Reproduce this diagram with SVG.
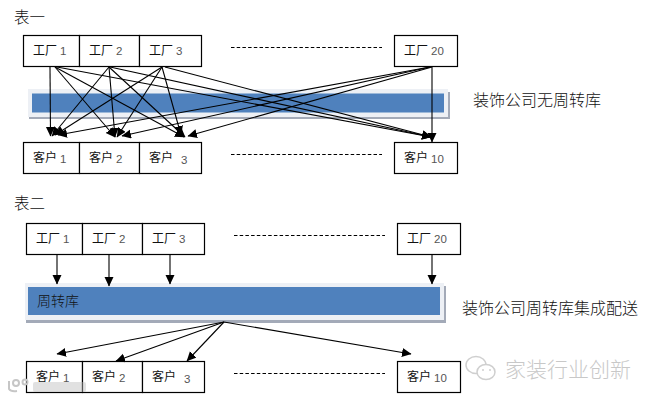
<svg xmlns="http://www.w3.org/2000/svg" width="648" height="401" viewBox="0 0 648 401">
<style>
text{font-family:"Noto Sans CJK SC","Liberation Sans",sans-serif;fill:#111}
.box{fill:#fff;stroke:#000;stroke-width:1.2}
.l{font-size:12px;font-weight:400}
.n{font-family:"Liberation Sans",sans-serif;font-size:11.500px;fill:#555}
.t{font-size:16px;font-weight:300}
.h{font-size:15.500px;font-weight:300}
.c line{stroke:#000;stroke-width:1.1;marker-end:url(#a)}
.d{stroke:#000;stroke-width:1;stroke-dasharray:3.5 2.2}
.glow{fill:#edf0f5}.sh{fill:#a3aab8}.blue{fill:#4f81bd}
.wm{font-size:21px;font-weight:300;fill:#c8c8c8}
.ic{fill:#fff;stroke:#cfcfcf;stroke-width:1.5}
.lg{fill:none;stroke:#c6c6c6;stroke-width:2}
</style>
<defs><marker id="a" markerUnits="userSpaceOnUse" markerWidth="11" markerHeight="10" refX="9" refY="4.500" orient="auto"><path d="M0 0L9.500 4.500L0 9Z" fill="#000"/></marker></defs>
<rect width="648" height="401" fill="#fff"/>
<text class="h" x="14" y="23">表一</text>
<text class="h" x="14" y="209">表二</text>

<g id="bar1"><rect class="sh" x="29" y="92" width="421" height="27"/><rect class="glow" x="28" y="89" width="420" height="28"/><rect class="blue" x="32" y="93.500" width="412" height="19"/></g>
<g id="bar2"><rect class="sh" x="26" y="286" width="420" height="37"/><rect class="glow" x="25" y="283" width="419" height="37"/><rect class="blue" x="28" y="287" width="412" height="28"/><text x="37" y="306" font-size="14" font-weight="300">周转库</text></g>

<g id="f1"><rect class="box" x="23.500" y="35.500" width="56" height="31"/><text class="l" x="33" y="55">工厂</text><text class="n" x="60" y="55">1</text></g>
<g id="f2"><rect class="box" x="79.500" y="35.500" width="60" height="31"/><text class="l" x="89" y="55">工厂</text><text class="n" x="116" y="55">2</text></g>
<g id="f3"><rect class="box" x="139.500" y="35.500" width="62" height="31"/><text class="l" x="149" y="55">工厂</text><text class="n" x="176" y="55">3</text></g>
<g id="f20"><rect class="box" x="394.500" y="35.500" width="63" height="31"/><text class="l" x="404" y="55">工厂</text><text class="n" x="431" y="55">20</text></g>
<g id="c1"><rect class="box" x="23.500" y="142.500" width="56" height="31"/><text class="l" x="33" y="162">客户</text><text class="n" x="60" y="163">1</text></g>
<g id="c2"><rect class="box" x="79.500" y="142.500" width="60" height="31"/><text class="l" x="89" y="162">客户</text><text class="n" x="116" y="163">2</text></g>
<g id="c3"><rect class="box" x="139.500" y="142.500" width="62" height="31"/><text class="l" x="149" y="162">客户</text><text class="n" x="181" y="164">3</text></g>
<g id="c10"><rect class="box" x="394.500" y="142.500" width="63" height="31"/><text class="l" x="404" y="162">客户</text><text class="n" x="431" y="163">10</text></g>

<g id="f1b"><rect class="box" x="26.500" y="223.500" width="56" height="31"/><text class="l" x="36" y="243">工厂</text><text class="n" x="63" y="243">1</text></g>
<g id="f2b"><rect class="box" x="82.500" y="223.500" width="60" height="31"/><text class="l" x="92" y="243">工厂</text><text class="n" x="119" y="243">2</text></g>
<g id="f3b"><rect class="box" x="142.500" y="223.500" width="62" height="31"/><text class="l" x="152" y="243">工厂</text><text class="n" x="179" y="243">3</text></g>
<g id="f20b"><rect class="box" x="397.500" y="223.500" width="63" height="31"/><text class="l" x="407" y="243">工厂</text><text class="n" x="434" y="243">20</text></g>
<g id="c1b"><rect class="box" x="26.500" y="361.500" width="56" height="31"/><text class="l" x="36" y="381">客户</text><text class="n" x="63" y="382">1</text></g>
<g id="c2b"><rect class="box" x="82.500" y="361.500" width="60" height="31"/><text class="l" x="92" y="381">客户</text><text class="n" x="119" y="382">2</text></g>
<g id="c3b"><rect class="box" x="142.500" y="361.500" width="62" height="31"/><text class="l" x="152" y="381">客户</text><text class="n" x="184" y="383">3</text></g>
<g id="c10b"><rect class="box" x="397.500" y="361.500" width="63" height="31"/><text class="l" x="407" y="381">客户</text><text class="n" x="434" y="382">10</text></g>

<g id="connectors">
<g class="c">
<line x1="50" y1="67" x2="50.500" y2="136"/>
<line x1="55" y1="67" x2="115" y2="137"/>
<line x1="55" y1="67" x2="184" y2="137"/>
<line x1="57" y1="67" x2="431" y2="137"/>
<line x1="109" y1="67" x2="52" y2="136"/>
<line x1="109" y1="67" x2="115" y2="137"/>
<line x1="109" y1="67" x2="185" y2="137"/>
<line x1="110" y1="67" x2="431" y2="137"/>
<line x1="162" y1="67" x2="55" y2="135"/>
<line x1="162" y1="67" x2="117" y2="137"/>
<line x1="162" y1="67" x2="181" y2="135"/>
<line x1="165" y1="67" x2="431" y2="137"/>
<line x1="430" y1="67" x2="58" y2="135"/>
<line x1="430" y1="67" x2="122" y2="136"/>
<line x1="432" y1="67" x2="188" y2="136"/>
<line x1="432" y1="66" x2="432" y2="142"/>
<line x1="57" y1="254" x2="57" y2="284"/>
<line x1="109" y1="254" x2="109" y2="286"/>
<line x1="170" y1="254" x2="170" y2="284"/>
<line x1="432" y1="254" x2="432" y2="284"/>
<line x1="224" y1="322" x2="57" y2="354"/>
<line x1="224" y1="322" x2="116" y2="361"/>
<line x1="224" y1="322" x2="187" y2="361"/>
<line x1="224" y1="322" x2="411" y2="354"/>
</g>
<line class="d" x1="231" y1="47.500" x2="382" y2="47.500"/>
<line class="d" x1="231" y1="154.500" x2="382" y2="154.500"/>
<line class="d" x1="234" y1="235.500" x2="385" y2="235.500"/>
<line class="d" x1="234" y1="373.500" x2="385" y2="373.500"/>
</g>

<text class="t" x="473" y="106">装饰公司无周转库</text>
<text class="t" x="462" y="314">装饰公司周转库集成配送</text>

<g id="watermark">
<text class="wm" x="505" y="377">家装行业创新</text>
<ellipse class="ic" cx="476" cy="365" rx="10" ry="8.500"/>
<ellipse class="ic" cx="486" cy="372" rx="9" ry="7.500"/>
<circle cx="483" cy="370" r="1" fill="#cfcfcf"/><circle cx="490" cy="370" r="1" fill="#cfcfcf"/>
<path class="lg" d="M9 381v8q2 3 8 2"/>
<circle class="lg" cx="16" cy="383" r="3"/><circle class="lg" cx="25" cy="382" r="2.500"/>
<rect x="33" y="382" width="53" height="10" rx="2" fill="#bdbdbd" fill-opacity="0.45"/>
</g>
</svg>
